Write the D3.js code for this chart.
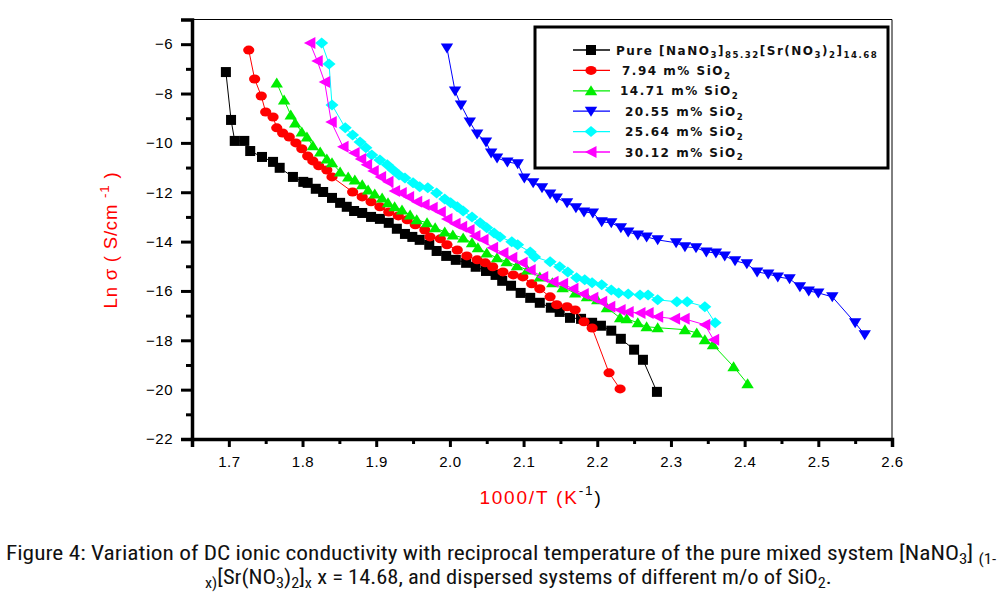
<!DOCTYPE html>
<html><head><meta charset="utf-8">
<script src="https://cdn.jsdelivr.net/npm/d3@7"></script>
<style>body{margin:0;background:#fff}svg{display:block}</style>
</head><body>
<svg id="c" width="1003" height="595"></svg>
<script>
// ---------- data ----------
const xTickValues = [1.7,1.8,1.9,2.0,2.1,2.2,2.3,2.4,2.5,2.6];
const xMinorTicks = [1.65,1.75,1.85,1.95,2.05,2.15,2.25,2.35,2.45,2.55];
const yTickValues = [-22,-20,-18,-16,-14,-12,-10,-8,-6];
const yMinorTicks = [-21,-19,-17,-15,-13,-11,-9,-7];

const pureX = [1.696,1.703,1.708,1.721,1.729,1.745,1.760,1.769,1.787,1.801,1.807,1.818,1.828,1.840,1.851,1.860,1.870,1.881,1.893,1.905,1.917,1.928,1.939,1.949,1.959,1.972,1.982,1.995,2.008,2.022,2.035,2.049,2.062,2.071,2.083,2.096,2.109,2.122,2.137,2.149,2.163,2.178,2.193,2.205,2.219,2.232,2.250,2.262,2.281];
const pureY = [-7.13,-9.07,-9.92,-9.92,-10.33,-10.57,-10.77,-11.01,-11.38,-11.58,-11.62,-11.86,-11.99,-12.23,-12.43,-12.59,-12.76,-12.84,-13.00,-13.08,-13.24,-13.48,-13.69,-13.81,-13.93,-14.13,-14.38,-14.58,-14.74,-14.86,-15.02,-15.19,-15.35,-15.59,-15.79,-16.08,-16.28,-16.48,-16.68,-16.85,-17.09,-17.13,-17.29,-17.41,-17.61,-17.94,-18.38,-18.79,-20.09];

const s794X = [1.727,1.735,1.744,1.750,1.760,1.765,1.773,1.782,1.791,1.799,1.807,1.814,1.822,1.833,1.840,1.868,1.881,1.893,1.905,1.917,1.930,1.942,1.953,1.966,1.973,1.987,1.996,2.010,2.023,2.037,2.048,2.058,2.072,2.086,2.099,2.111,2.122,2.136,2.145,2.159,2.170,2.182,2.193,2.216,2.231];
const s794Y = [-6.24,-7.41,-8.10,-8.75,-8.95,-9.39,-9.60,-9.76,-10.00,-10.24,-10.53,-10.73,-10.93,-11.10,-11.38,-11.99,-12.19,-12.39,-12.59,-12.80,-12.96,-13.12,-13.32,-13.53,-13.81,-13.89,-14.13,-14.34,-14.58,-14.74,-14.86,-15.02,-15.23,-15.35,-15.43,-15.71,-15.91,-16.24,-16.56,-16.64,-16.77,-17.25,-17.50,-19.32,-19.97];

const s1471X = [1.765,1.775,1.784,1.790,1.799,1.806,1.814,1.824,1.833,1.840,1.851,1.862,1.871,1.881,1.889,1.898,1.908,1.916,1.925,1.935,1.946,1.955,1.969,1.980,1.993,2.004,2.018,2.030,2.038,2.050,2.064,2.077,2.091,2.105,2.122,2.139,2.153,2.170,2.186,2.200,2.213,2.231,2.240,2.255,2.267,2.282,2.319,2.335,2.346,2.357,2.385,2.404];
const s1471Y = [-7.57,-8.26,-8.87,-9.19,-9.56,-9.76,-10.12,-10.37,-10.65,-10.81,-11.18,-11.38,-11.50,-11.70,-11.91,-12.07,-12.23,-12.43,-12.59,-12.72,-12.92,-13.12,-13.24,-13.44,-13.61,-13.73,-13.85,-14.05,-14.25,-14.46,-14.66,-14.82,-14.98,-15.15,-15.43,-15.67,-15.87,-16.08,-16.24,-16.36,-16.68,-17.09,-17.13,-17.29,-17.45,-17.49,-17.57,-17.70,-17.98,-18.18,-19.07,-19.76];

const s2055X = [1.996,2.007,2.015,2.027,2.037,2.049,2.056,2.064,2.078,2.092,2.101,2.113,2.125,2.136,2.145,2.159,2.171,2.182,2.194,2.206,2.219,2.232,2.242,2.255,2.267,2.282,2.307,2.319,2.334,2.348,2.361,2.373,2.387,2.403,2.417,2.432,2.445,2.461,2.475,2.487,2.500,2.519,2.550,2.563];
const s2055Y = [-6.15,-7.90,-8.46,-9.15,-9.64,-9.96,-10.41,-10.61,-10.77,-10.85,-11.42,-11.62,-11.82,-12.07,-12.23,-12.43,-12.63,-12.80,-12.84,-13.20,-13.24,-13.44,-13.61,-13.73,-13.81,-13.93,-14.05,-14.21,-14.25,-14.42,-14.46,-14.58,-14.78,-14.90,-15.23,-15.31,-15.43,-15.51,-15.83,-16.00,-16.08,-16.24,-17.29,-17.78];

const s2564X = [1.826,1.836,1.840,1.858,1.868,1.878,1.886,1.894,1.905,1.915,1.923,1.931,1.939,1.950,1.959,1.970,1.982,1.993,2.001,2.010,2.018,2.030,2.041,2.050,2.060,2.068,2.084,2.092,2.109,2.115,2.136,2.149,2.160,2.172,2.183,2.193,2.206,2.219,2.229,2.242,2.258,2.269,2.282,2.308,2.322,2.346,2.360];
const s2564Y = [-5.95,-6.80,-8.46,-9.39,-9.68,-9.96,-10.20,-10.49,-10.69,-10.89,-11.10,-11.30,-11.42,-11.62,-11.78,-11.82,-12.03,-12.27,-12.43,-12.59,-12.76,-13.00,-13.24,-13.44,-13.65,-13.81,-14.01,-14.13,-14.42,-14.62,-14.82,-15.02,-15.23,-15.47,-15.55,-15.67,-15.75,-15.96,-16.08,-16.12,-16.16,-16.16,-16.36,-16.44,-16.44,-16.64,-17.29];

const s3012X = [1.810,1.820,1.830,1.839,1.855,1.870,1.879,1.887,1.896,1.906,1.916,1.925,1.934,1.944,1.955,1.965,1.976,1.987,1.996,2.007,2.016,2.026,2.034,2.045,2.058,2.072,2.084,2.098,2.109,2.126,2.140,2.153,2.167,2.181,2.194,2.206,2.217,2.231,2.242,2.258,2.269,2.282,2.305,2.318,2.346,2.358];
const s3012Y = [-5.95,-6.68,-7.53,-9.15,-10.16,-10.41,-10.65,-10.89,-11.14,-11.38,-11.58,-11.95,-12.03,-12.19,-12.39,-12.51,-12.63,-12.80,-13.08,-13.28,-13.40,-13.53,-13.77,-13.93,-14.25,-14.46,-14.66,-14.86,-15.15,-15.43,-15.63,-15.71,-15.91,-16.12,-16.28,-16.44,-16.64,-16.77,-16.85,-16.89,-16.89,-17.05,-17.13,-17.13,-17.37,-17.98];

const seriesColors = ["#000000","#ff0000","#00ee00","#0000ff","#00ffff","#ff00ff"];
const seriesShapes = ["square","circle","up","down","diamond","left"];
const seriesXs = [pureX,s794X,s1471X,s2055X,s2564X,s3012X];
const seriesYs = [pureY,s794Y,s1471Y,s2055Y,s2564Y,s3012Y];
// legend labels (rich text parts)
const legendLabels = [
  [{t:"Pure [NaNO"},{t:"3",k:"sub"},{t:"]"},{t:"85.32",k:"sub"},{t:"[Sr(NO"},{t:"3",k:"sub"},{t:")"},{t:"2",k:"sub"},{t:"]"},{t:"14.68",k:"sub"}],
  [{t:"7.94 m% SiO"},{t:"2",k:"sub"}],
  [{t:"14.71 m% SiO"},{t:"2",k:"sub"}],
  [{t:"20.55 m% SiO"},{t:"2",k:"sub"}],
  [{t:"25.64 m% SiO"},{t:"2",k:"sub"}],
  [{t:"30.12 m% SiO"},{t:"2",k:"sub"}]
];

// ---------- layout ----------
const svg = d3.select("#c");
const L = 192, R = 892, T = 19.5, B = 439;
const x = d3.scaleLinear().domain([1.65,2.6]).range([L,R]);
const y = d3.scaleLinear().domain([-22,-5]).range([B,T]);
const AX = "'Liberation Sans', Arial, sans-serif";

function rich(text, parts, base, subShift){
  const ss = subShift === undefined ? 0.32 : subShift;
  let off = 0;
  parts.forEach(p=>{
    const target = p.k==="sub" ? base*ss : p.k==="sup" ? -base*0.45 : 0;
    const ts = text.append("tspan").text(p.t).attr("dy", target-off);
    if(p.k) ts.attr("font-size", p.fs || base*0.72);
    if(p.fill) ts.attr("fill", p.fill);
    off = target;
  });
}

function marker(g, shape, cx, cy, color){
  let el;
  if(shape==="square") el = g.append("rect").attr("x",cx-5).attr("y",cy-5).attr("width",10).attr("height",10);
  else if(shape==="circle") el = g.append("ellipse").attr("cx",cx).attr("cy",cy).attr("rx",5.6).attr("ry",4.5);
  else {
    let pts;
    if(shape==="up") pts=[[cx,cy-5.5],[cx+6.2,cy+4.5],[cx-6.2,cy+4.5]];
    else if(shape==="down") pts=[[cx-6.2,cy-4.5],[cx+6.2,cy-4.5],[cx,cy+5.5]];
    else if(shape==="diamond") pts=[[cx,cy-5.5],[cx+6.5,cy],[cx,cy+5.5],[cx-6.5,cy]];
    else pts=[[cx-6,cy],[cx+5.5,cy-6],[cx+5.5,cy+6]];
    el = g.append("polygon").attr("points", pts.map(p=>p.join(",")).join(" "));
  }
  el.attr("fill", color);
}

// frame (top & right thin)
svg.append("line").attr("x1",L).attr("x2",R).attr("y1",T).attr("y2",T).attr("stroke","#000").attr("stroke-width",1);
svg.append("line").attr("x1",R).attr("x2",R).attr("y1",T).attr("y2",B).attr("stroke","#000").attr("stroke-width",1);

// x axis
const gx = svg.append("g").attr("transform",`translate(0,${B})`)
  .call(d3.axisBottom(x).tickValues(xTickValues).tickSize(8).tickPadding(9).tickFormat(d3.format(".1f")));
gx.select(".domain").attr("stroke-width",3.5);
gx.selectAll(".tick line").attr("stroke-width",3);
gx.selectAll("text").attr("font-family",AX).attr("font-size",15).attr("letter-spacing",0.5).attr("fill","#000");
const gxm = svg.append("g").attr("transform",`translate(0,${B})`)
  .call(d3.axisBottom(x).tickValues(xMinorTicks).tickSize(5).tickFormat(""));
gxm.select(".domain").remove();
gxm.selectAll(".tick line").attr("stroke-width",3);

// y axis
const gy = svg.append("g").attr("transform",`translate(${L},0)`)
  .call(d3.axisLeft(y).tickValues(yTickValues).tickSize(11).tickPadding(8));
gy.select(".domain").attr("stroke-width",3.5);
gy.selectAll(".tick line").attr("stroke-width",3);
gy.selectAll("text").attr("font-family",AX).attr("font-size",15).attr("letter-spacing",0.5).attr("fill","#000");
const gym = svg.append("g").attr("transform",`translate(${L},0)`)
  .call(d3.axisLeft(y).tickValues(yMinorTicks).tickSize(6).tickFormat(""));
gym.select(".domain").remove();
gym.selectAll(".tick line").attr("stroke-width",3);

// series
const line = d3.line().x(d=>x(d[0])).y(d=>y(d[1]));
seriesXs.forEach((xs,i)=>{
  const pts = xs.map((v,j)=>[v, seriesYs[i][j]]);
  const g = svg.append("g");
  g.append("path").attr("d", line(pts)).attr("fill","none").attr("stroke",seriesColors[i]).attr("stroke-width",1);
  pts.forEach(p=>marker(g, seriesShapes[i], x(p[0]), y(p[1]), seriesColors[i]));
});

// legend
const lg = svg.append("g");
lg.append("rect").attr("x",535).attr("y",27).attr("width",353).attr("height",141)
  .attr("fill","#fff").attr("stroke","#000").attr("stroke-width",3);
const legendTextX = [616,622,620,625,625,625];
legendLabels.forEach((parts,i)=>{
  const ly = 50 + i*20.4;
  lg.append("line").attr("x1",573).attr("x2",610).attr("y1",ly).attr("y2",ly).attr("stroke",seriesColors[i]).attr("stroke-width",1.3);
  marker(lg, seriesShapes[i], 591, ly, seriesColors[i]);
  const t = lg.append("text").attr("x",legendTextX[i]).attr("y",ly+4.5)
    .attr("font-family","'DejaVu Sans', Verdana, sans-serif").attr("font-weight","bold")
    .attr("font-size",12).attr("letter-spacing",1.5).attr("fill","#111");
  rich(t, parts, 12);
});

// axis titles
const yt = svg.append("text").attr("transform","translate(117,240) rotate(-90)")
  .attr("text-anchor","middle").attr("font-family",AX).attr("font-size",18.5).attr("letter-spacing",0.8).attr("fill","#ff0000");
rich(yt, [{t:"Ln σ ( S/cm "},{t:"-1",k:"sup"},{t:" )"}], 18.5);

const xt = svg.append("text").attr("x",541).attr("y",504)
  .attr("text-anchor","middle").attr("font-family",AX).attr("font-size",19).attr("letter-spacing",1.8).attr("fill","#ff0000");
rich(xt, [{t:"1000/T (K"},{t:"-1",k:"sup",fill:"#000"},{t:")",fill:"#000"}], 19);

// caption
const CF = "'Liberation Sans Narrow','Roboto Condensed','Liberation Sans',Arial,sans-serif";
function caption(parts, x0, x1, base){
  const t = svg.append("text").attr("x",0).attr("y",0)
    .attr("font-family",CF).attr("font-size",20).attr("fill","#111");
  rich(t, parts, 20, 0.2);
  const w = t.node().getBBox().width;
  t.attr("transform",`translate(${x0},${base}) scale(${(x1-x0)/w},1)`);
}
caption([{t:"Figure 4: Variation of DC ionic conductivity with reciprocal temperature of the pure mixed system [NaNO"},{t:"3",k:"sub"},{t:"] "},{t:"(1-",k:"sub"}], 6, 997, 560);
caption([{t:"x)",k:"sub"},{t:"[Sr(NO"},{t:"3",k:"sub"},{t:")"},{t:"2",k:"sub"},{t:"]"},{t:"x",k:"sub"},{t:" x = 14.68,  and  dispersed systems of different m/o of SiO"},{t:"2",k:"sub"},{t:"."}], 205, 832, 584);
</script>
</body></html>
